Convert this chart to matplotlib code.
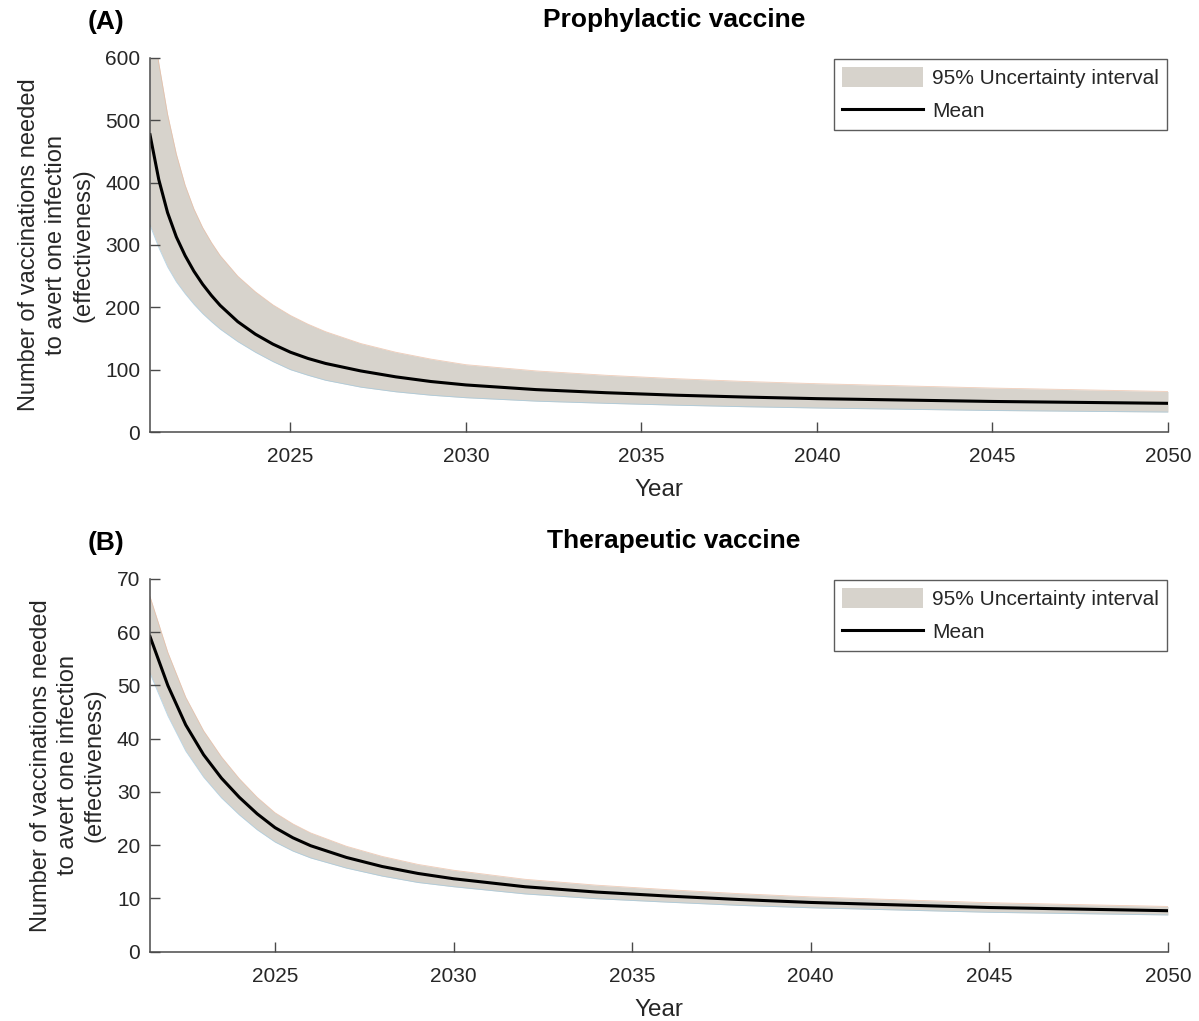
import matplotlib
matplotlib.use("Agg")
import matplotlib.pyplot as plt

plt.rcParams['font.family'] = ['Liberation Sans', 'DejaVu Sans']

# Panel A: prophylactic vaccine
years_a = [2021, 2021.25, 2021.5, 2021.75, 2022, 2022.25, 2022.5, 2022.75, 2023, 2023.5,
           2024, 2024.5, 2025, 2025.5, 2026, 2027, 2028, 2029, 2030, 2032, 2034, 2036,
           2038, 2040, 2045, 2050]
mean_a = [477, 405, 352, 313, 283, 258, 237, 219, 203, 177,
          157, 141, 128, 118, 110, 98, 88.5, 81, 75.5, 68, 63, 59,
          56, 53.5, 49, 46]
upper_a = [690, 592, 510, 446, 396, 358, 328, 304, 283, 250,
           225, 204, 187, 173, 161, 142, 128, 117, 108, 98, 91, 85.5,
           81, 77.5, 70.5, 65]
lower_a = [332, 296, 265, 241, 222, 205, 190, 177, 165, 145,
           128, 113, 100, 91, 83, 72, 64.5, 59, 55, 49.5, 46, 43,
           40.5, 38.5, 34.5, 32]

# Panel B: therapeutic vaccine
years_b = [2021.5, 2022, 2022.5, 2023, 2023.5, 2024, 2024.5, 2025, 2025.5, 2026,
           2027, 2028, 2029, 2030, 2032, 2034, 2036, 2038, 2040, 2045, 2050]
mean_b = [59.2, 50.0, 42.6, 37.0, 32.6, 29.0, 25.9, 23.3, 21.4, 19.9,
          17.7, 16.0, 14.7, 13.7, 12.2, 11.2, 10.45, 9.8, 9.25, 8.3, 7.7]
upper_b = [66.7, 56.2, 47.8, 41.5, 36.6, 32.5, 29.0, 26.1, 24.0, 22.3,
           19.8, 17.9, 16.4, 15.3, 13.6, 12.5, 11.65, 10.9, 10.3, 9.2, 8.5]
lower_b = [52.3, 44.3, 37.7, 32.8, 28.9, 25.7, 22.9, 20.6, 18.9, 17.6,
           15.7, 14.2, 13.0, 12.2, 10.85, 9.95, 9.3, 8.7, 8.25, 7.4, 6.9]

xticks = [2025, 2030, 2035, 2040, 2045, 2050]
yticks_a = [0, 100, 200, 300, 400, 500, 600]
yticks_b = [0, 10, 20, 30, 40, 50, 60, 70]

titles = ["Prophylactic vaccine", "Therapeutic vaccine"]
panel_labels = ["(A)", "(B)"]
ylabel = "Number of vaccinations needed\nto avert one infection\n(effectiveness)"
legend_labels = ['95% Uncertainty interval', 'Mean']

band_color = '#d7d3cc'
text_color = '#262626'
axis_color = '#4a4a4a'

fig = plt.figure(figsize=(11.99, 10.21), dpi=100)
W, H = 1199, 1021


def make_ax(top_px, bottom_px):
    return fig.add_axes([150 / W, 1 - bottom_px / H, 1018 / W, (bottom_px - top_px) / H])


ax_a = make_ax(58, 432)
ax_b = make_ax(579, 951.7)
heights_px = [374, 372.7]

configs = [
    (ax_a, years_a, mean_a, upper_a, lower_a, (2021, 2050), (0, 600), yticks_a),
    (ax_b, years_b, mean_b, upper_b, lower_b, (2021.5, 2050), (0, 70), yticks_b),
]

for i, (ax, yrs, m, up, lo, xl, yl, yt) in enumerate(configs):
    hp = heights_px[i]
    band = ax.fill_between(yrs, lo, up, color=band_color, linewidth=0,
                           label=legend_labels[0], zorder=1)
    ax.plot(yrs, up, color='#e9b89c', lw=0.6, alpha=0.7, zorder=1.5)
    ax.plot(yrs, lo, color='#9cc6de', lw=0.6, alpha=0.7, zorder=1.5)
    line, = ax.plot(yrs, m, color='black', lw=2.2, label=legend_labels[1], zorder=2)
    ax.set_xlim(*xl)
    ax.set_ylim(*yl)
    ax.set_xticks(xticks)
    ax.set_yticks(yt)
    for s in ['top', 'right']:
        ax.spines[s].set_visible(False)
    for s in ['left', 'bottom']:
        ax.spines[s].set_color(axis_color)
        ax.spines[s].set_linewidth(1.1)
    ax.tick_params(direction='in', length=7, width=1.0, color=axis_color,
                   labelsize=15, labelcolor=text_color)
    ax.tick_params(axis='x', pad=11)
    ax.tick_params(axis='y', pad=7)
    ax.set_xlabel('Year', fontsize=17.5, color=text_color, labelpad=9.5)
    ax.set_ylabel(ylabel, fontsize=17, color=text_color, labelpad=8, linespacing=1.3)
    ax.text((674 - 150) / 1018, 1 + 31 / hp, titles[i], transform=ax.transAxes,
            fontsize=19, fontweight='bold', color='black', ha='center', va='baseline')
    ax.text((88 - 150) / 1018, 1 + 29 / hp, panel_labels[i], transform=ax.transAxes,
            fontsize=19, fontweight='bold', color='black', ha='left', va='baseline')
    leg = ax.legend(handles=[band, line], loc='upper right', fontsize=15,
                    frameon=True, fancybox=False, edgecolor='#333333',
                    handlelength=3.9, handleheight=1.05, borderaxespad=0.05,
                    borderpad=0.4, labelspacing=0.6, handletextpad=0.4)
    leg.get_frame().set_linewidth(1.0)
    for t in leg.get_texts():
        t.set_color(text_color)

fig.savefig('out.png', dpi=100)
